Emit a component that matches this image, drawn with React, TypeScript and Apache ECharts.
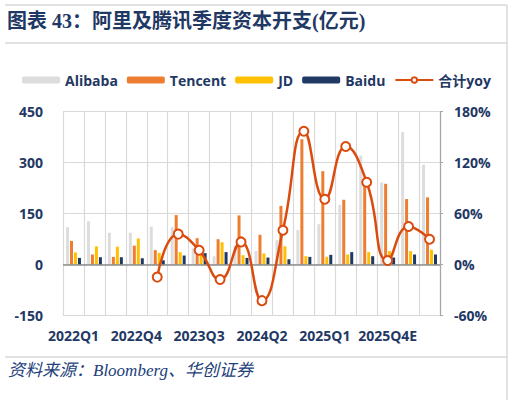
import React, { useEffect, useRef } from "react";
import * as echarts from "echarts";

const categories = [
  "2022Q1", "2022Q2", "2022Q3", "2022Q4",
  "2023Q1", "2023Q2", "2023Q3", "2023Q4",
  "2024Q1", "2024Q2", "2024Q3", "2024Q4",
  "2025Q1", "2025Q2", "2025Q3E", "2025Q4E",
  "2026Q1E", "2026Q2E",
];
const alibaba = [110, 128, 94, 94, 112, 110, 48, 25, 55, 40, 72, 102, 119, 176, 321, 242, 390, 294];
const tencent = [70, 30, 23, 56, 43, 146, 78, 75, 145, 88, 173, 369, 275, 191, 235, 238, 193, 198];
const jd = [36, 54, 53, 77, 35, 37, 28, 66, 28, 33, 54, 25, 23, 30, 37, 40, 40, 44];
const baidu = [20, 22, 22, 19, 13, 27, 34, 37, 20, 21, 16, 23, 29, 37, 25, 21, 30, 30];
const totalYoy = [null, null, null, null, -14.6, 36, 17, -17.4, 26.8, -42.3, 40.6, 157, 77, 139, 97, 5, 45, 30];

const leftTicks = { min: -150, max: 450, interval: 150 };
const rightTicks = { min: -60, max: 180, interval: 60 };

const NAVY = "#1F3864";
const GRID_GRAY = "#D9D9D9";

export default function App() {
  const ref = useRef<HTMLDivElement>(null);

  useEffect(() => {
    document.body.style.margin = "0";
    if (!ref.current) return;
    const chart = echarts.init(ref.current, null, { renderer: "svg" });
    const font = "'Open Sans', 'Noto Sans CJK SC', sans-serif";
    const barCommon = {
      type: "bar",
      barWidth: 3,
      barGap: "33%",
      yAxisIndex: 0,
    };
    chart.setOption({
      animation: false,
      backgroundColor: "#ffffff",
      textStyle: { fontFamily: font },
      grid: { left: 63, right: 74, top: 111.7, bottom: 84.3, containLabel: false },
      legend: {
        top: 68,
        left: 17,
        itemWidth: 38,
        itemHeight: 7,
        itemGap: 9,
        textStyle: { color: NAVY, fontSize: 14, fontWeight: "bold", fontFamily: font },
        data: ["Alibaba", "Tencent", "JD", "Baidu", "合计yoy"],
      },
      graphic: [
        { type: "line", shape: { x1: 5, y1: 5, x2: 507, y2: 5 }, style: { stroke: GRID_GRAY, lineWidth: 1.5 } },
        { type: "line", shape: { x1: 5, y1: 43, x2: 507, y2: 43 }, style: { stroke: GRID_GRAY, lineWidth: 1.5 } },
        { type: "line", shape: { x1: 5, y1: 357, x2: 507, y2: 357 }, style: { stroke: GRID_GRAY, lineWidth: 1.5 } },
        { type: "line", shape: { x1: 507, y1: 5, x2: 507, y2: 400 }, style: { stroke: GRID_GRAY, lineWidth: 1.5 } },
        {
          type: "text",
          left: 7,
          top: 11,
          style: {
            text: "图表 43：阿里及腾讯季度资本开支(亿元)",
            fill: NAVY,
            font: "bold 20px 'Liberation Serif', 'Noto Sans CJK SC', serif",
          },
        },
        {
          type: "text",
          left: 8,
          top: 362,
          style: {
            text: "资料来源：Bloomberg、华创证券",
            fill: "#22407A",
            font: "italic 17px 'Liberation Serif', 'Noto Sans CJK SC', serif",
          },
        },
      ],
      xAxis: {
        type: "category",
        data: categories,
        boundaryGap: true,
        axisLine: { show: false },
        axisTick: { show: false },
        axisLabel: {
          interval: 2,
          margin: 13,
          color: NAVY,
          fontSize: 14,
          fontWeight: "bold",
          fontFamily: font,
        },
        splitLine: { show: true, interval: 0, lineStyle: { color: GRID_GRAY, width: 1.2 } },
      },
      yAxis: [
        {
          type: "value",
          min: leftTicks.min,
          max: leftTicks.max,
          interval: leftTicks.interval,
          axisLine: { show: false },
          axisTick: { show: false },
          axisLabel: { margin: 20, color: NAVY, fontSize: 14, fontWeight: "bold", fontFamily: font },
          splitLine: { show: true, lineStyle: { color: GRID_GRAY, width: 1.2 } },
        },
        {
          type: "value",
          min: rightTicks.min,
          max: rightTicks.max,
          interval: rightTicks.interval,
          position: "right",
          axisLine: { show: true, lineStyle: { color: "#A6A6A6", width: 1.2 } },
          axisTick: { show: true, inside: false, length: 3, lineStyle: { color: "#A6A6A6" } },
          axisLabel: {
            margin: 14,
            color: NAVY,
            fontSize: 14,
            fontWeight: "bold",
            fontFamily: font,
            formatter: "{value}%",
          },
          splitLine: { show: false },
        },
      ],
      series: [
        { ...barCommon, name: "Alibaba", data: alibaba, itemStyle: { color: "#DDDDDD" } },
        { ...barCommon, name: "Tencent", data: tencent, itemStyle: { color: "#ED7D31" } },
        { ...barCommon, name: "JD", data: jd, itemStyle: { color: "#FFC000" } },
        {
          ...barCommon,
          name: "Baidu",
          data: baidu,
          itemStyle: { color: "#1F3864" },
          markLine: {
            silent: true,
            symbol: ["none", "none"],
            label: { show: false },
            lineStyle: { color: "#8C8C8C", width: 1.5, type: "solid" },
            data: [{ yAxis: 0 }],
          },
        },
        {
          type: "line",
          name: "合计yoy",
          yAxisIndex: 1,
          data: totalYoy,
          smooth: 0.5,
          connectNulls: false,
          symbol: "circle",
          symbolSize: 9,
          lineStyle: { color: "#DB4B0E", width: 2.5 },
          itemStyle: { color: "#FFFFFF", borderColor: "#DB4B0E", borderWidth: 2 },
          z: 5,
        },
      ],
    });
    return () => chart.dispose();
  }, []);

  return <div ref={ref} style={{ position: "absolute", left: 0, top: 0, width: 514, height: 400 }} />;
}
